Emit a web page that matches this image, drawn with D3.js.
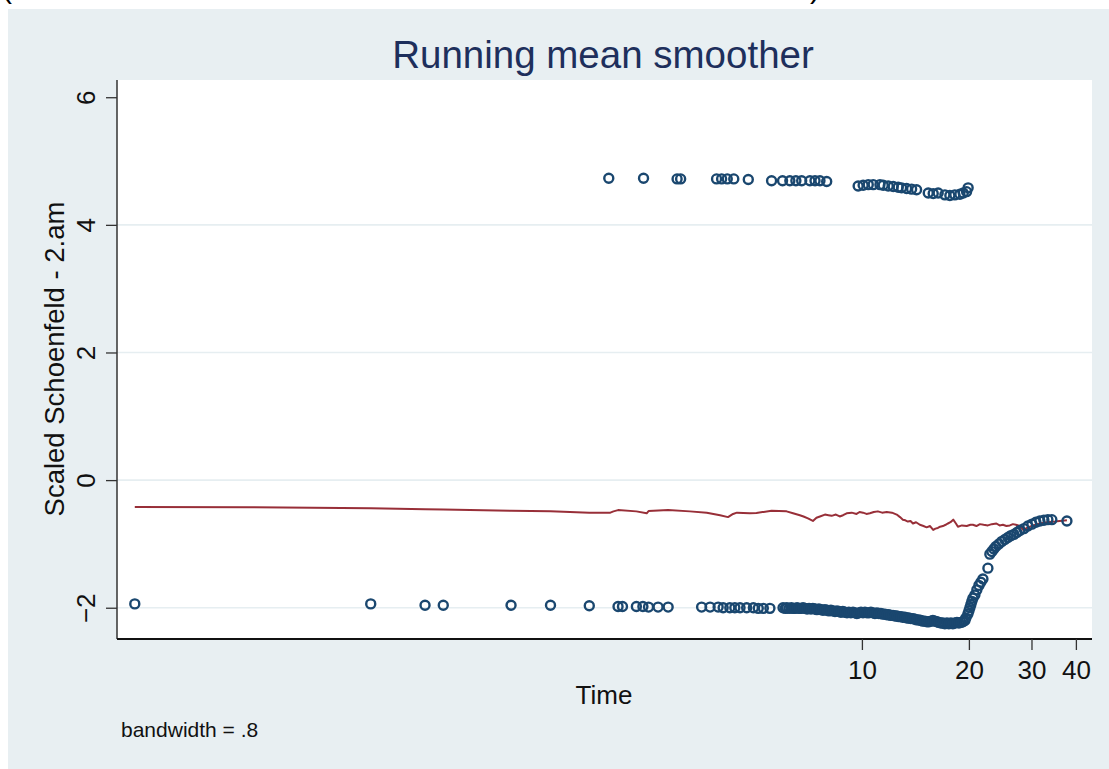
<!DOCTYPE html>
<html>
<head>
<meta charset="utf-8">
<script src="https://cdn.jsdelivr.net/npm/d3@7"></script>
<style>
  html, body { margin: 0; padding: 0; background: #ffffff; }
  svg { display: block; }
  text { font-family: "Liberation Sans", Arial, sans-serif; }
</style>
</head>
<body>
<svg id="chart" width="1109" height="769"></svg>
<script>
// ---------- data ----------
const chartTitle = "Running mean smoother";
const xTitle = "Time";
const yTitle = "Scaled Schoenfeld - 2.am";
const noteText = "bandwidth = .8";
const xTickValues = [10, 20, 30, 40];
const yTickValues = [-2, 0, 2, 4, 6];

// upper group of residuals
const upperTime = [1.94, 2.43, 3.02, 3.09, 3.90, 4.03, 4.18, 4.36, 4.79, 5.57, 5.98, 6.27, 6.52, 6.77,
  7.14, 7.38, 7.62, 7.96, 9.76, 10.08, 10.42, 10.76, 11.24, 11.48, 11.86, 12.25, 12.65, 12.93, 13.36,
  13.80, 14.25, 15.37, 15.87, 16.39, 17.12, 17.68, 18.26, 18.87, 19.28, 19.70, 19.90];
const upperValue = [4.73, 4.73, 4.72, 4.72, 4.72, 4.72, 4.72, 4.72, 4.71, 4.69, 4.69, 4.69, 4.69, 4.69,
  4.69, 4.69, 4.69, 4.68, 4.61, 4.62, 4.63, 4.63, 4.63, 4.62, 4.61, 4.60, 4.59, 4.58, 4.57,
  4.56, 4.55, 4.50, 4.49, 4.50, 4.47, 4.46, 4.47, 4.48, 4.50, 4.52, 4.58];

// lower group of residuals
const lowerTime = [0.090, 0.415, 0.590, 0.664, 1.03, 1.33, 1.71, 2.06, 2.12, 2.32, 2.42, 2.51, 2.67, 2.85,
  3.54, 3.74, 3.94, 4.07, 4.25, 4.39, 4.54, 4.74, 4.95, 5.11, 5.28, 5.51,
  6.00, 6.09, 6.15, 6.24, 6.33, 6.40, 6.48, 6.57, 6.65, 6.74, 6.83, 6.92, 7.01, 7.10, 7.19, 7.28,
  7.38, 7.47, 7.57, 7.67, 7.77, 7.87, 7.97, 8.08, 8.18, 8.29, 8.40, 8.51, 8.62, 8.73, 8.84, 8.96,
  9.08, 9.19, 9.31, 9.44, 9.56, 9.68, 9.81, 9.94, 10.07, 10.20, 10.33, 10.47, 10.60, 10.74, 10.88,
  11.02, 11.17, 11.31, 11.46, 11.61, 11.76, 11.91, 12.07, 12.23, 12.39, 12.55, 12.71, 12.88, 13.04,
  13.21, 13.39, 13.56, 13.74, 13.92, 14.10, 14.28, 14.47, 14.66, 14.85, 15.04, 15.24, 15.44, 15.64,
  15.84, 16.05, 16.26, 16.47, 16.68, 16.90, 17.12, 17.35, 17.57, 17.80, 18.03, 18.27, 18.51, 18.75,
  18.99, 19.24, 19.49,
  19.61, 19.87, 20.0, 20.13, 20.26, 20.39, 20.53, 20.79, 21.06, 21.34, 21.61, 21.90, 22.62, 22.91,
  23.21, 23.51, 23.82, 24.29, 24.77, 25.25, 25.75, 26.25, 26.77, 27.29, 27.83, 28.56, 29.31, 30.08,
  30.87, 31.67, 32.51, 33.36, 34.23, 37.74];
const lowerValue = [-1.94, -1.94, -1.96, -1.96, -1.96, -1.96, -1.97, -1.98, -1.98, -1.98, -1.98, -1.99, -1.99, -1.99,
  -1.99, -1.99, -1.99, -2.00, -2.00, -2.00, -2.00, -2.00, -2.00, -2.01, -2.01, -2.01,
  -2.00, -2.01, -2.00, -2.01, -2.00, -2.01, -2.01, -2.00, -2.01, -2.01, -2.00, -2.01, -2.02, -2.01, -2.02, -2.01,
  -2.02, -2.03, -2.02, -2.03, -2.04, -2.03, -2.04, -2.05, -2.04, -2.05, -2.06, -2.05, -2.06, -2.07, -2.06, -2.07,
  -2.08, -2.07, -2.08, -2.07, -2.08, -2.09, -2.08, -2.07, -2.08, -2.07, -2.08, -2.08, -2.07, -2.08, -2.09,
  -2.08, -2.09, -2.09, -2.10, -2.10, -2.11, -2.11, -2.12, -2.12, -2.13, -2.13, -2.14, -2.14, -2.15,
  -2.15, -2.16, -2.16, -2.17, -2.17, -2.18, -2.19, -2.19, -2.20, -2.21, -2.21, -2.22, -2.22, -2.21,
  -2.20, -2.21, -2.22, -2.23, -2.24, -2.24, -2.25, -2.24, -2.25, -2.24, -2.25, -2.24, -2.23, -2.24,
  -2.23, -2.22, -2.20,
  -2.16, -2.10, -2.05, -2.00, -1.95, -1.90, -1.85, -1.80, -1.72, -1.65, -1.60, -1.55, -1.38, -1.16,
  -1.12, -1.08, -1.04, -1.00, -0.96, -0.93, -0.90, -0.87, -0.85, -0.82, -0.79, -0.76, -0.72, -0.69,
  -0.66, -0.64, -0.63, -0.62, -0.62, -0.64];

// running mean smoother
const smoothTime = [0.090, 0.190, 0.415, 0.590, 0.664, 1.03, 1.33, 1.71, 1.96, 2.00, 2.06, 2.32, 2.48, 2.51,
  2.85, 3.28, 3.66, 3.99, 4.20, 4.34, 4.45, 4.84, 5.05, 5.57, 6.14, 6.40, 6.69, 6.85, 7.05, 7.28, 7.45, 7.62, 7.87,
  8.05, 8.22, 8.45, 8.66, 8.85, 9.06, 9.36, 9.66, 9.85, 10.07, 10.30, 10.53, 10.80, 11.09, 11.40, 11.74, 12.15,
  12.53, 12.80, 13.04, 13.25, 13.47, 13.70, 13.92, 14.20,
  14.56, 14.90, 15.21, 15.55, 15.87, 16.10, 16.36, 16.60, 16.90, 17.20, 17.46, 17.75, 18.07, 18.39,
  18.63, 19.12, 19.72, 20.20, 20.53, 21.00, 21.48, 22.00, 22.62, 23.20, 23.90, 24.40, 24.93, 25.50,
  26.08, 26.60, 27.12, 27.83, 28.43, 29.31, 30.28, 31.67, 33.09, 34.89, 37.74];
const smoothValue = [-0.42, -0.425, -0.44, -0.455, -0.46, -0.48, -0.49, -0.51, -0.51, -0.49, -0.47, -0.49, -0.52, -0.485,
  -0.47, -0.49, -0.51, -0.55, -0.58, -0.53, -0.51, -0.52, -0.515, -0.48, -0.49, -0.52, -0.55, -0.57, -0.60, -0.64, -0.59, -0.57, -0.54,
  -0.55, -0.56, -0.54, -0.57, -0.55, -0.52, -0.51, -0.53, -0.50, -0.51, -0.53, -0.52, -0.50, -0.49, -0.51, -0.50, -0.51,
  -0.54, -0.58, -0.62, -0.63, -0.65, -0.64, -0.68, -0.66,
  -0.70, -0.72, -0.74, -0.72, -0.78, -0.76, -0.75, -0.73, -0.72, -0.70, -0.68, -0.66, -0.62, -0.68,
  -0.73, -0.71, -0.72, -0.70, -0.70, -0.72, -0.69, -0.70, -0.71, -0.69, -0.68, -0.71, -0.70, -0.72,
  -0.71, -0.69, -0.70, -0.72, -0.78, -0.74, -0.71, -0.68, -0.66, -0.65, -0.63];

// ---------- layout ----------
const W = 1109, H = 769;
const plot = { left: 117, right: 1092, top: 80, bottom: 639 };
const colors = {
  bg: "#e8eff2", plot: "#ffffff", grid: "#e6eef1", marker: "#1a476f",
  line: "#982f38", title: "#1e2f5c", text: "#111111", axis: "#333333"
};

const svg = d3.select("#chart");

svg.append("rect").attr("x", 0).attr("y", 0).attr("width", W).attr("height", H).attr("fill", "#ffffff");
svg.append("rect").attr("x", 8).attr("y", 9).attr("width", W - 8).attr("height", H - 9).attr("fill", colors.bg);

// cropped glyphs at the top edge (remnants of text above, as in the reference)
svg.append("text").attr("x", 2).attr("y", -2).attr("font-size", 30).attr("fill", "#000").text("(");
svg.append("text").attr("x", 810).attr("y", -2).attr("font-size", 30).attr("fill", "#000").text(")");

svg.append("rect")
  .attr("x", plot.left).attr("y", plot.top)
  .attr("width", plot.right - plot.left).attr("height", plot.bottom - plot.top)
  .attr("fill", colors.plot);

const x = d3.scaleLog().domain([0.0802, 44.4]).range([plot.left, plot.right]);
const y = d3.scaleLinear().domain([-2.49, 6.27]).range([plot.bottom, plot.top]);

// gridlines
svg.append("g").selectAll("line")
  .data(yTickValues.filter(v => v < 6))
  .join("line")
  .attr("x1", plot.left).attr("x2", plot.right)
  .attr("y1", d => y(d)).attr("y2", d => y(d))
  .attr("stroke", colors.grid).attr("stroke-width", 1.6);

// smoother line
const lineGen = d3.line().x(d => x(d[0])).y(d => y(d[1])).curve(d3.curveStepAfter);
svg.append("path")
  .datum(smoothTime.map((t, i) => [t, smoothValue[i]]))
  .attr("d", d3.line().x(d => x(d[0])).y(d => y(d[1])))
  .attr("fill", "none").attr("stroke", colors.line).attr("stroke-width", 2)
  .attr("stroke-linejoin", "round");

// markers
const pts = upperTime.map((t, i) => [t, upperValue[i]])
  .concat(lowerTime.map((t, i) => [t, lowerValue[i]]));
svg.append("g").selectAll("circle")
  .data(pts)
  .join("circle")
  .attr("cx", d => x(d[0])).attr("cy", d => y(d[1]))
  .attr("r", 4.5)
  .attr("fill", "none").attr("stroke", colors.marker).attr("stroke-width", 2.4);

// y axis
const yAxis = d3.axisLeft(y).tickValues(yTickValues).tickSize(11).tickPadding(10).tickFormat(d3.format("d"));
const gy = svg.append("g").attr("transform", `translate(${plot.left},0)`).call(yAxis);
gy.select(".domain").attr("stroke", colors.axis).attr("stroke-width", 1.5)
  .attr("d", `M0,${plot.top}V${plot.bottom}`);
gy.selectAll(".tick line").attr("stroke", colors.axis).attr("stroke-width", 1.3);
gy.selectAll(".tick text")
  .attr("font-size", 26).attr("fill", colors.text)
  .attr("font-family", "Liberation Sans, Arial, sans-serif")
  .attr("x", null).attr("dy", null)
  .attr("text-anchor", "middle")
  .attr("transform", "translate(-22,0) rotate(-90)")
  .attr("y", 0);

// x axis
const xAxis = d3.axisBottom(x).tickValues(xTickValues).tickSize(11).tickPadding(8).tickFormat(d3.format("d"));
const gx = svg.append("g").attr("transform", `translate(0,${plot.bottom})`).call(xAxis);
gx.select(".domain").attr("stroke", "#111").attr("stroke-width", 1.8)
  .attr("d", `M${plot.left},0H${plot.right}`);
gx.selectAll(".tick line").attr("stroke", colors.axis).attr("stroke-width", 1.3);
gx.selectAll(".tick text")
  .attr("font-size", 26).attr("fill", colors.text)
  .attr("font-family", "Liberation Sans, Arial, sans-serif")
  .attr("dy", null).attr("y", 40);

// titles
svg.append("text").attr("x", 603).attr("y", 68).attr("text-anchor", "middle")
  .attr("font-size", 38.5).attr("fill", colors.title).text(chartTitle);
svg.append("text").attr("x", 604).attr("y", 704).attr("text-anchor", "middle")
  .attr("font-size", 26).attr("fill", colors.text).text(xTitle);
svg.append("text").attr("transform", "translate(64,359) rotate(-90)").attr("text-anchor", "middle")
  .attr("font-size", 27.5).attr("fill", colors.text).text(yTitle);
svg.append("text").attr("x", 121).attr("y", 737)
  .attr("font-size", 21).attr("fill", colors.text).text(noteText);
</script>
</body>
</html>
